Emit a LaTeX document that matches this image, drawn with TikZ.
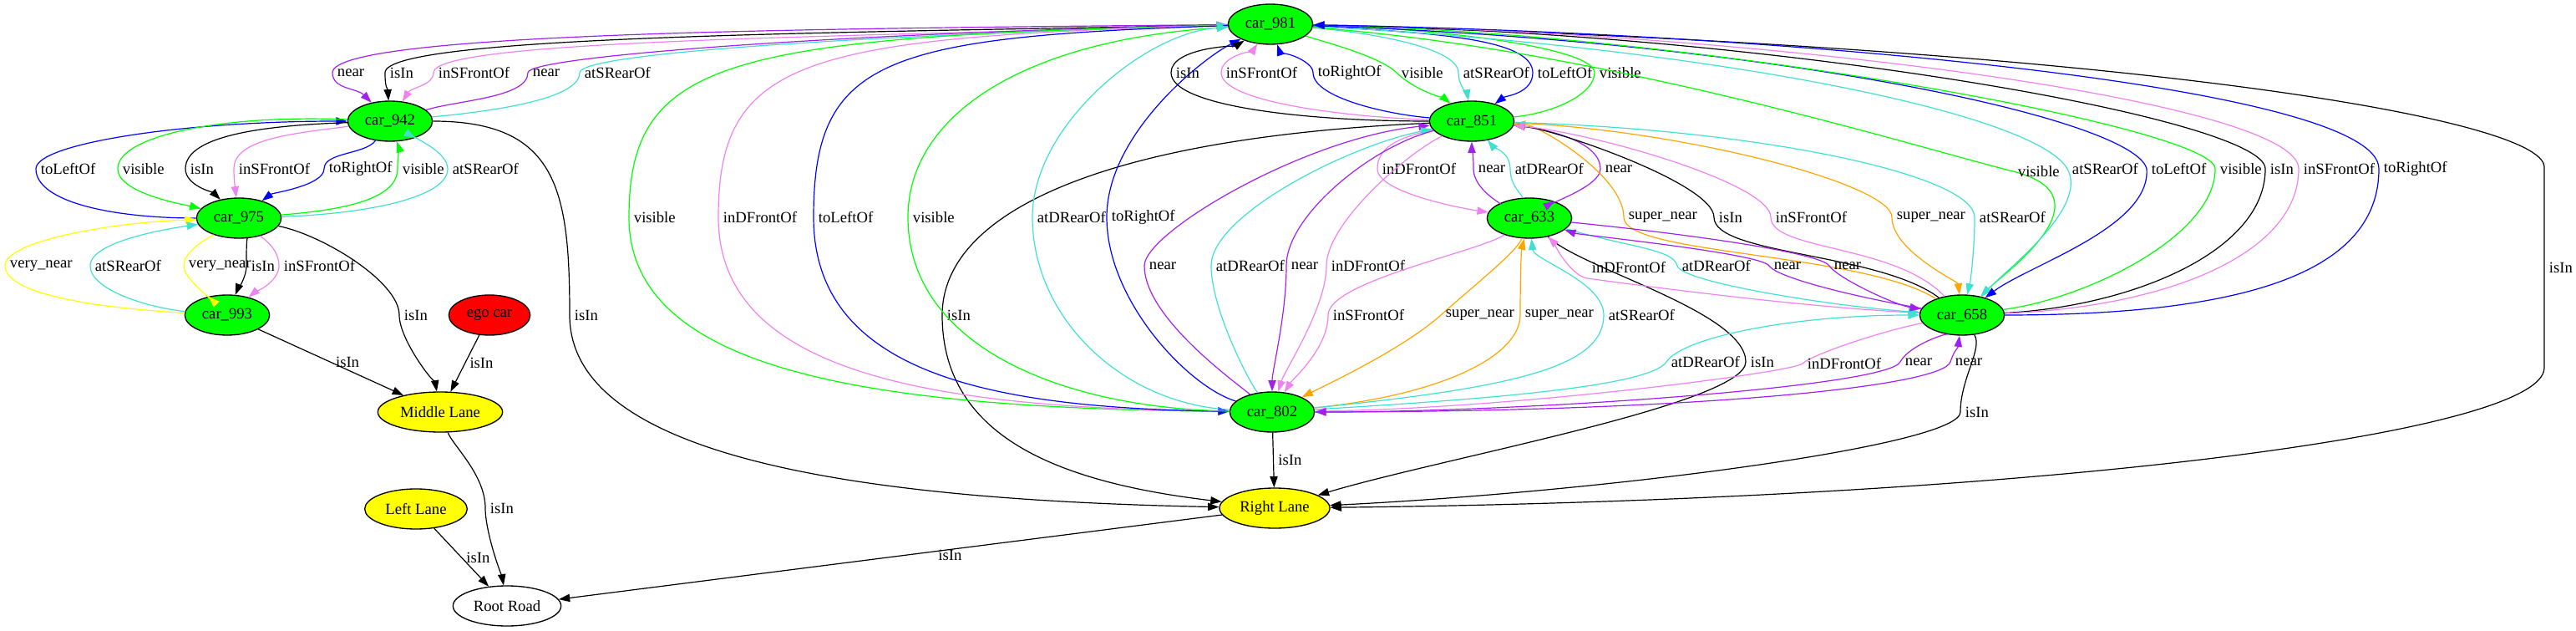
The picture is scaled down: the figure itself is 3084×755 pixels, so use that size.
\documentclass[tikz,border=0pt]{standalone}
\usepackage{fontspec}
\setmainfont{Liberation Serif}
\usetikzlibrary{shapes.geometric,arrows.meta}
\definecolor{gvgreen}{RGB}{0,255,0}
\definecolor{gvyellow}{RGB}{255,255,0}
\definecolor{gvred}{RGB}{255,0,0}
\definecolor{gvpurple}{RGB}{160,32,240}
\definecolor{gvviolet}{RGB}{238,130,238}
\definecolor{gvturq}{RGB}{64,224,208}
\definecolor{gvblue}{RGB}{0,0,255}
\definecolor{gvorange}{RGB}{255,165,0}
\begin{document}
\begin{tikzpicture}[x=0.75pt, y=0.75pt, >={Triangle[length=10pt,width=7pt]}, line width=0.9pt,
        every node/.style={font=\fontsize{14}{16}\selectfont, text=black},
        car/.style={draw=black, ellipse, fill=gvgreen, line width=1pt, minimum width=76pt, minimum height=36pt, inner sep=0pt},
        lane/.style={draw=black, ellipse, fill=gvyellow, line width=1pt, minimum height=36pt, inner sep=0pt},
        lab/.style={anchor=west, inner sep=0pt, xshift=4pt}]
        \useasboundingbox (0,0) rectangle (3084,-755);

        \node[car] (c981) at (1521,-29) {car\_981};
        \node[car] (c942) at (467,-145) {car\_942};
        \node[car] (c851) at (1762,-145) {car\_851};
        \node[car] (c975) at (286,-261) {car\_975};
        \node[car] (c633) at (1831,-261) {car\_633};
        \node[car] (c993) at (272,-377) {car\_993};
        \node[car] (c658) at (2349,-377) {car\_658};
        \node[car] (c802) at (1523,-493) {car\_802};
        \node[draw,ellipse,fill=gvred,line width=1pt,minimum width=73pt,minimum height=36pt,inner sep=0pt] (ego) at (586,-377) {ego car};
        \node[lane,minimum width=112pt] (ml) at (527,-493) {Middle Lane};
        \node[lane,minimum width=92pt] (ll) at (498,-609) {Left Lane};
        \node[lane,minimum width=99pt] (rl) at (1526,-608) {Right Lane};
        \node[draw,ellipse,fill=white,line width=1pt,minimum width=97pt,minimum height=36pt,inner sep=0pt] (rr) at (607,-725) {Root Road};

        \draw[->, gvpurple] (c981) .. controls +(-500,-5) and +(0,50) .. (398,-87) node[lab] (l1) {near} .. controls +(0,-20) and +(-40,40) .. (c942);
        \draw[->] (c981) .. controls +(-500,-10) and +(0,45) .. (461,-87) node[lab] (l2) {isIn} .. controls +(0,-20) and +(-3,40) .. (c942);
        \draw[->, gvviolet] (c981) .. controls +(-500,-15) and +(0,40) .. (519,-87) node[lab] (l3) {inSFrontOf} .. controls +(0,-15) and +(25,40) .. (c942);
        \draw[->, gvpurple] (c942) .. controls +(80,25) and +(0,-30) .. (632,-87) node[lab] (l4) {near} .. controls +(0,20) and +(-500,-10) .. (c981);
        \draw[->, gvturq] (c942) .. controls +(100,10) and +(0,-35) .. (694,-87) node[lab] (l5) {atSRearOf} .. controls +(0,25) and +(-450,-12) .. (c981);

        \draw[->, gvblue] (c975) .. controls +(-150,0) and +(0,-40) .. (43,-202) node[lab] (l6) {toLeftOf} .. controls +(0,30) and +(-250,0) .. (c942);
        \draw[->, gvgreen] (c942) .. controls +(-200,8) and +(0,40) .. (141,-202) node[lab] (l7) {visible} .. controls +(0,-30) and +(-60,15) .. (c975);
        \draw[->] (c942) .. controls +(-150,-5) and +(0,40) .. (222,-202) node[lab] (l8) {isIn} .. controls +(0,-20) and +(-30,30) .. (c975);
        \draw[->, gvviolet] (c942) .. controls +(-120,-15) and +(0,35) .. (280,-202) node[lab] (l9) {inSFrontOf} .. controls +(0,-10) and +(-5,40) .. (c975);
        \draw[->, gvblue] (c942) .. controls +(-30,-40) and +(0,20) .. (388,-202) node[lab] (l10) {toRightOf} .. controls +(0,-20) and +(40,30) .. (c975);
        \draw[->, gvgreen] (c975) .. controls +(130,10) and +(0,-35) .. (476,-202) node[lab] (l11) {visible} .. controls +(0,10) and +(10,-30) .. (c942);
        \draw[->, gvturq] (c975) .. controls +(150,5) and +(0,-35) .. (536,-202) node[lab] (l12) {atSRearOf} .. controls +(0,20) and +(30,-20) .. (c942);

        \draw[->, gvyellow] (c993) .. controls +(-150,8) and +(0,-35) .. (6,-318) node[lab] (l13) {very\_near} .. controls +(0,30) and +(-150,-5) .. (c975);
        \draw[->, gvturq] (c993) .. controls +(-90,8) and +(0,-30) .. (108,-318) node[lab] (l14) {atSRearOf} .. controls +(0,30) and +(-80,-12) .. (c975);
        \draw[->, gvyellow] (c975) .. controls +(-30,-20) and +(0,20) .. (220,-318) node[lab] (l15) {very\_near} .. controls +(0,-15) and +(-20,20) .. (c993);
        \draw[->] (c975) .. controls +(9,-20) and +(0,15) .. (295,-318) node[lab] (l16) {isIn} .. controls +(0,-15) and +(10,25) .. (c993);
        \draw[->, gvviolet] (c975) .. controls +(30,-25) and +(0,20) .. (334,-318) node[lab] (l17) {inSFrontOf} .. controls +(0,-20) and +(30,25) .. (c993);

        \draw[->] (c975) .. controls +(100,-20) and +(0,40) .. (478,-377) node[lab] (l18) {isIn} .. controls +(0,-30) and +(-5,30) .. (ml);
        \draw[->] (c993) -- (ml) node[lab, pos=.5] (l19) {isIn};
        \draw[->] (ego) -- (ml) node[lab, pos=.5] (l20) {isIn};
        \draw[->] (ml) .. controls +(15,-40) and +(0,40) .. (581,-608) node[lab] (l21) {isIn} .. controls +(0,-30) and +(-5,30) .. (rr);
        \draw[->] (ll) -- (rr) node[lab, pos=.5] (l22) {isIn};
        \draw[->] (rl) -- (rr) node[pos=.41, anchor=north, inner sep=0pt] (l23) {isIn};
        \draw[->] (c942) .. controls +(200,0) and +(0,150) .. (682,-377) node[lab] (l24) {isIn} .. controls +(0,-170) and +(-500,10) .. (rl);
        \draw[->] (c981) .. controls +(1000,-25) and +(0,60) .. (3046,-200) -- (3046,-440) node[lab, pos=.5] (l25) {isIn} .. controls +(0,-80) and +(900,10) .. (rl);
        \draw[->] (c802) -- (rl) node[lab, pos=.5] (l26) {isIn};
        \draw[->] (c851) .. controls +(-450,-20) and +(0,120) .. (1128,-377) node[lab] (l27) {isIn} .. controls +(0,-150) and +(-250,30) .. (rl);
        \draw[->] (c633) .. controls +(60,-60) and +(0,60) .. (2090,-433) node[lab] (l28) {isIn} .. controls +(0,-50) and +(200,60) .. (rl);
        \draw[->] (c658) .. controls +(25,-40) and +(0,40) .. (2347,-493) node[lab] (l29) {isIn} .. controls +(0,-40) and +(400,20) .. (rl);

        \draw[->, gvgreen] (c981) .. controls +(-653,-15) and +(0,190) .. (753,-260) node[lab] (l30) {visible} .. controls +(0,-190) and +(-462,5) .. (c802);
        \draw[->, gvviolet] (c981) .. controls +(-562,-15) and +(0,190) .. (860,-260) node[lab] (l31) {inDFrontOf} .. controls +(0,-190) and +(-398,5) .. (c802);
        \draw[->, gvblue] (c981) .. controls +(-465,-15) and +(0,190) .. (974,-260) node[lab] (l32) {toLeftOf} .. controls +(0,-190) and +(-329,5) .. (c802);
        \draw[->, gvgreen] (c802) .. controls +(-260,5) and +(0,-150) .. (1087,-260) node[lab] (l33) {visible} .. controls +(0,120) and +(-300,-20) .. (c981);
        \draw[->, gvturq] (c802) .. controls +(-180,10) and +(0,-120) .. (1236,-260) node[lab] (l34) {atDRearOf} .. controls +(0,110) and +(-150,-10) .. (c981);
        \draw[->, gvblue] (c802) .. controls +(-100,30) and +(0,-100) .. (1325,-260) node[lab] (l35) {toRightOf} .. controls +(0,100) and +(-80,-40) .. (c981);

        \draw[->] (c851) .. controls +(-200,0) and +(0,-40) .. (1402,-87) node[lab] (l36) {isIn} .. controls +(0,30) and +(-40,-25) .. (c981);
        \draw[->, gvviolet] (c851) .. controls +(-150,5) and +(0,-35) .. (1462,-87) node[lab] (l37) {inSFrontOf} .. controls +(0,20) and +(-20,-30) .. (c981);
        \draw[->, gvblue] (c851) .. controls +(-100,8) and +(0,-30) .. (1572,-87) node[lab] (l38) {toRightOf} .. controls +(0,15) and +(10,-30) .. (c981);
        \draw[->, gvgreen] (c981) .. controls +(60,-20) and +(-20,20) .. (1672,-87) node[lab] (l39) {visible} .. controls +(20,-20) and +(-30,25) .. (c851);
        \draw[->, gvturq] (c981) .. controls +(120,-10) and +(0,30) .. (1746,-87) node[lab] (l40) {atSRearOf} .. controls +(0,-15) and +(-5,30) .. (c851);
        \draw[->, gvblue] (c981) .. controls +(200,-10) and +(0,40) .. (1835,-87) node[lab] (l41) {toLeftOf} .. controls +(0,-25) and +(40,30) .. (c851);
        \draw[->, gvgreen] (c851) .. controls +(100,10) and +(0,-25) .. (1909,-87) node[lab] (l42) {visible} .. controls +(0,30) and +(200,-5) .. (c981);

        \draw[->, gvviolet] (c851) .. controls +(-90,-20) and +(0,25) .. (1649,-202) node[lab] (l43) {inDFrontOf} .. controls +(0,-30) and +(-70,10) .. (c633);
        \draw[->, gvpurple] (c633) .. controls +(-30,15) and +(0,-25) .. (1764,-202) node[lab] (l44) {near} .. controls +(0,20) and +(0,-30) .. (c851);
        \draw[->, gvturq] (c633) .. controls +(-10,30) and +(0,-20) .. (1808,-202) node[lab] (l45) {atDRearOf} .. controls +(0,20) and +(25,-30) .. (c851);
        \draw[->, gvpurple] (c851) .. controls +(100,-10) and +(0,30) .. (1916,-202) node[lab] (l46) {near} .. controls +(0,-20) and +(30,20) .. (c633);

        \draw[->, gvpurple] (c802) .. controls +(-50,40) and +(0,-60) .. (1370,-318) node[lab] (l47) {near} .. controls +(0,40) and +(-200,-20) .. (c851);
        \draw[->, gvturq] (c802) .. controls +(-30,40) and +(0,-50) .. (1450,-318) node[lab] (l48) {atDRearOf} .. controls +(0,60) and +(-150,-30) .. (c851);
        \draw[->, gvpurple] (c851) .. controls +(-120,-30) and +(0,60) .. (1540,-318) node[lab] (l49) {near} .. controls +(0,-60) and +(0,50) .. (c802);
        \draw[->, gvviolet] (c851) .. controls +(-80,-40) and +(0,50) .. (1588,-318) node[lab] (l50) {inDFrontOf} .. controls +(0,-50) and +(15,50) .. (c802);

        \draw[->, gvviolet] (c633) .. controls +(-60,-40) and +(0,40) .. (1590,-377) node[lab] (l51) {inSFrontOf} .. controls +(0,-40) and +(25,40) .. (c802);
        \draw[->, gvorange] (c633) .. controls +(-15,-40) and +(45,40) .. (1725,-377) node[lab] (l52) {super\_near} .. controls +(-45,-40) and +(70,35) .. (c802);
        \draw[->, gvorange] (c802) .. controls +(200,20) and +(0,-50) .. (1820,-377) node[lab] (l53) {super\_near} .. controls +(0,40) and +(-10,-40) .. (c633);
        \draw[->, gvturq] (c802) .. controls +(300,30) and +(0,-60) .. (1920,-377) node[lab] (l54) {atSRearOf} .. controls +(0,40) and +(5,-50) .. (c633);

        \draw[->, gvorange] (c658) .. controls +(-120,75) and +(0,-45) .. (1944,-260) node[lab] (l55) {super\_near} .. controls +(0,50) and +(80,-5) .. (c851);
        \draw[->] (c658) .. controls +(-100,75) and +(0,-45) .. (2052,-260) node[lab] (l56) {isIn} .. controls +(0,40) and +(100,-10) .. (c851);
        \draw[->, gvviolet] (c658) .. controls +(-80,85) and +(0,-40) .. (2120,-260) node[lab] (l57) {inSFrontOf} .. controls +(0,40) and +(150,-15) .. (c851);
        \draw[->, gvorange] (c851) .. controls +(250,-10) and +(0,40) .. (2265,-260) node[lab] (l58) {super\_near} .. controls +(0,-40) and +(-5,40) .. (c658);
        \draw[->, gvturq] (c851) .. controls +(350,-10) and +(0,50) .. (2364,-260) node[lab] (l59) {atSRearOf} .. controls +(0,-40) and +(10,40) .. (c658);

        \draw[->, gvviolet] (c658) .. controls +(-200,10) and +(60,-8) .. (1900,-333) node[lab, yshift=10pt] (l60) {inDFrontOf} .. controls +(-20,3) and +(25,-25) .. (c633);
        \draw[->, gvturq] (c633) .. controls +(120,-35) and +(-5,20) .. (2008,-318) node[lab] (l61) {atDRearOf} .. controls +(5,-20) and +(-150,10) .. (c658);
        \draw[->, gvpurple] (c658) .. controls +(-120,20) and +(10,-15) .. (2118,-318) node[lab] (l62) {near} .. controls +(-10,15) and +(60,-20) .. (c633);
        \draw[->, gvpurple] (c633) .. controls +(200,-20) and +(-10,15) .. (2190,-318) node[lab] (l63) {near} .. controls +(10,-15) and +(-80,12) .. (c658);

        \draw[->, gvturq] (c802) .. controls +(250,15) and +(-20,-30) .. (1995,-433) node[lab] (l64) {atDRearOf} .. controls +(20,30) and +(-200,0) .. (c658);
        \draw[->, gvviolet] (c658) .. controls +(-100,-20) and +(10,10) .. (2158,-435) node[lab] (l65) {inDFrontOf} .. controls +(-10,-10) and +(300,5) .. (c802);
        \draw[->, gvpurple] (c658) .. controls +(-15,-20) and +(10,20) .. (2275,-433) node[lab] (l66) {near} .. controls +(-15,-30) and +(300,0) .. (c802);
        \draw[->, gvpurple] (c802) .. controls +(500,0) and +(-10,-30) .. (2335,-433) node[lab] (l67) {near} .. controls +(5,15) and +(-5,-40) .. (c658);

        \draw[->, gvgreen] (c981) .. controls +(400,-30) and +(-120,30) .. (2410,-205) node[lab] (l68) {visible} .. controls +(120,-30) and +(50,50) .. (c658);
        \draw[->, gvturq] (c981) .. controls +(500,-25) and +(-40,70) .. (2475,-202) node[lab] (l69) {atSRearOf} .. controls +(25,-45) and +(60,60) .. (c658);
        \draw[->, gvblue] (c981) .. controls +(600,-20) and +(-15,60) .. (2570,-202) node[lab] (l70) {toLeftOf} .. controls +(5,-70) and +(80,60) .. (c658);
        \draw[->, gvgreen] (c658) .. controls +(150,20) and +(0,-80) .. (2652,-202) node[lab] (l71) {visible} .. controls +(0,50) and +(500,-10) .. (c981);
        \draw[->] (c658) .. controls +(200,10) and +(0,-100) .. (2712,-202) node[lab] (l72) {isIn} .. controls +(0,60) and +(600,-10) .. (c981);
        \draw[->, gvviolet] (c658) .. controls +(250,10) and +(0,-100) .. (2752,-202) node[lab] (l73) {inSFrontOf} .. controls +(0,80) and +(600,-10) .. (c981);
        \draw[->, gvblue] (c658) .. controls +(350,0) and +(0,-120) .. (2848,-202) node[lab] (l74) {toRightOf} .. controls +(0,100) and +(600,-10) .. (c981);
    \end{tikzpicture}
\end{document}
